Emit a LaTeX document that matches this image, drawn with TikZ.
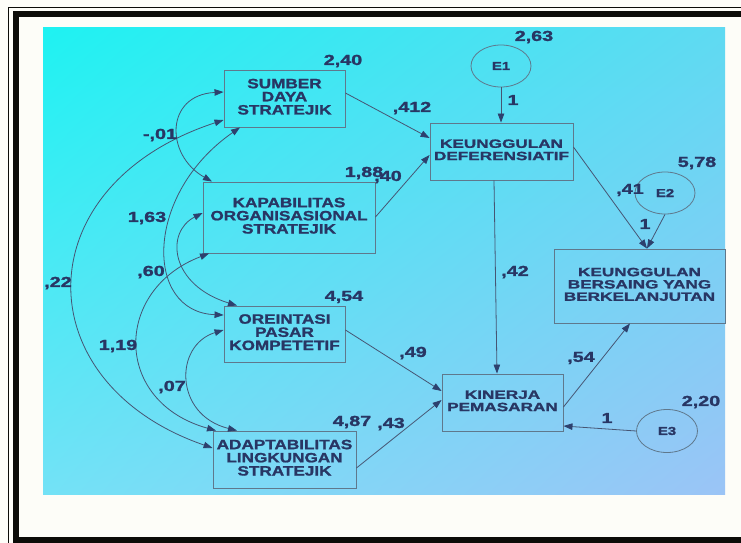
\documentclass[tikz,border=0pt]{standalone}
\usepackage{fontspec}
\usepackage{graphicx}
\setmainfont{Liberation Sans}[BoldFeatures={FakeBold=1.3}]
\usetikzlibrary{arrows.meta,shapes.geometric,shadings}
\newcommand{\ltxt}[1]{\scalebox{1.27}[1]{\begin{tabular}{@{}c@{}}#1\end{tabular}}}
\newcommand{\rtxt}[1]{\scalebox{1.43}[1]{\begin{tabular}{@{}c@{}}#1\end{tabular}}}
\newcommand{\ntxt}[1]{\scalebox{1.36}[1]{#1}}
\newcommand{\etxt}[1]{\scalebox{1.3}[1]{#1}}
\definecolor{txt}{RGB}{40,54,100}
\definecolor{ln}{RGB}{70,85,115}
\definecolor{bd}{RGB}{95,120,140}
\definecolor{ah}{RGB}{45,65,110}
\definecolor{paper}{RGB}{253,253,248}
\definecolor{frm}{RGB}{12,12,8}
\definecolor{cTL}{RGB}{30,242,242}
\definecolor{cTR}{RGB}{95,218,242}
\definecolor{cBL}{RGB}{115,226,246}
\definecolor{cBR}{RGB}{155,196,246}
\begin{document}
\begin{tikzpicture}[x=1pt,y=-1pt,
  lbox/.style={draw=bd, line width=0.9pt, inner sep=0pt, align=center, text=txt,
    font=\bfseries\fontsize{13.5}{12.5}\selectfont},
  rbox/.style={draw=bd, line width=0.9pt, inner sep=0pt, align=center, text=txt,
    font=\bfseries\fontsize{12}{12.3}\selectfont},
  err/.style={ellipse, draw=bd, line width=0.8pt, minimum width=60pt, minimum height=42pt,
    inner sep=0pt, text=txt, font=\bfseries\fontsize{11.5}{12}\selectfont},
  num/.style={text=txt, font=\bfseries\fontsize{14.5}{15}\selectfont, inner sep=0pt},
  pathar/.style={draw=ln, line width=0.8pt, -{Triangle[length=9pt,width=6.5pt,color=ah]}},
  cov/.style={draw=ln, line width=0.8pt,
    {Triangle[length=9pt,width=6.5pt,color=ah]}-{Triangle[length=9pt,width=6.5pt,color=ah]}},
]
\useasboundingbox (0,0) rectangle (741,543);
\fill[paper] (0,0) rectangle (741,543);
% frame
\draw[frm, line width=1.3pt] (8.7,560) -- (8.7,7.4) -- (760,7.4);
\draw[frm, line width=6.2pt] (15.8,14.2) rectangle (770,539.8);
% panel
\shade[upper left=cTL, upper right=cTR, lower left=cBL, lower right=cBR] (43,28) rectangle (725,494);

% boxes
\node[lbox, minimum width=121pt, minimum height=57pt] (sdk) at (284.5,98.5) {\ltxt{SUMBER\\DAYA\\STRATEJIK}};
\node[lbox, minimum width=172pt, minimum height=71pt] (kos) at (289,217.5) {\ltxt{KAPABILITAS\\ORGANISASIONAL\\STRATEJIK}};
\node[lbox, minimum width=121pt, minimum height=56pt] (opk) at (284.5,334) {\ltxt{OREINTASI\\PASAR\\KOMPETETIF}};
\node[lbox, minimum width=143pt, minimum height=57pt] (als) at (284.5,459.5) {\ltxt{ADAPTABILITAS\\LINGKUNGAN\\STRATEJIK}};
\node[rbox, minimum width=143pt, minimum height=57pt] (kd) at (501.5,151.5) {\rtxt{KEUNGGULAN\\DEFERENSIATIF}};
\node[rbox, minimum width=171pt, minimum height=74pt] (kbb) at (639.5,286) {\rtxt{KEUNGGULAN\\BERSAING YANG\\BERKELANJUTAN}};
\node[rbox, minimum width=121pt, minimum height=57pt] (kp) at (502.5,402.5) {\rtxt{KINERJA\\PEMASARAN}};
\node[err] (E1) at (501,66) {\etxt{E1}};
\node[err] (E2) at (665,193) {\etxt{E2}};
\node[err, minimum width=61pt, minimum height=43pt] (E3) at (667,431) {\etxt{E3}};

% directed paths
\draw[pathar] (sdk.east |- 0,93) -- (kd.west |- 0,138);
\draw[pathar] (kos.east |- 0,217) -- (kd.west |- 0,155);
\draw[pathar] (E1.south) -- (kd.north -| E1.south);
\draw[pathar] (kd.south -| 494,0) -- (kp.north -| 497,0);
\draw[pathar] (kd.east |- 0,147) -- (kbb.north -| 647,0);
\draw[pathar] (E2.south) -- (kbb.north -| 647,0);
\draw[pathar] (opk.east |- 0,330) -- (kp.west |- 0,391);
\draw[pathar] (als.east |- 0,468) -- (kp.west |- 0,400);
\draw[pathar] (kp.east |- 0,407) -- (kbb.south -| 630,0);
\draw[pathar] (E3.west) -- (kp.east |- 0,426);

% covariances
\draw[cov] (sdk.west |- 0,92) .. controls (165,95) and (165,155) .. (kos.north -| 212,0);
\draw[cov] (sdk.west |- 0,120) .. controls (24.5,185) and (24.5,383) .. (als.west |- 0,448);
\draw[cov] (sdk.south -| 240,0) .. controls (144,194) and (144,312) .. (opk.west |- 0,315);
\draw[cov] (kos.west |- 0,213) .. controls (165,232) and (170,285) .. (opk.north -| 237,0);
\draw[cov] (kos.south -| 209,0) .. controls (113,290) and (113,402) .. (als.north -| 216,0);
\draw[cov] (opk.west |- 0,330) .. controls (174,345) and (174,415) .. (als.north -| 237,0);

% labels
\node[num] (l1) at (343,61) {\ntxt{2,40}};
\node[num] (l2) at (534,37) {\ntxt{2,63}};
\node[num] (l3) at (697,163) {\ntxt{5,78}};
\node[num] (l4) at (701,402) {\ntxt{2,20}};
\node[num] (l5) at (344,297) {\ntxt{4,54}};
\node[num] (l6) at (352,422) {\ntxt{4,87}};
\node[num] (l7) at (364,173) {\ntxt{1,88}};
\node[num] (l8) at (388,177) {\ntxt{,40}};
\node[num] (l9) at (412,108) {\ntxt{,412}};
\node[num] (l10) at (513,100) {\ntxt{1}};
\node[num] (l11) at (515,272) {\ntxt{,42}};
\node[num] (l12) at (630,190) {\ntxt{,41}};
\node[num] (l13) at (645,224) {\ntxt{1}};
\node[num] (l14) at (413,353) {\ntxt{,49}};
\node[num] (l15) at (391,424) {\ntxt{,43}};
\node[num] (l16) at (581,358) {\ntxt{,54}};
\node[num] (l17) at (607,418) {\ntxt{1}};
\node[num] (c1) at (160,135) {\ntxt{-,01}};
\node[num] (c2) at (147,218) {\ntxt{1,63}};
\node[num] (c3) at (151,272) {\ntxt{,60}};
\node[num] (c4) at (58,283) {\ntxt{,22}};
\node[num] (c5) at (118,346) {\ntxt{1,19}};
\node[num] (c6) at (172,387) {\ntxt{,07}};
\end{tikzpicture}
\end{document}
